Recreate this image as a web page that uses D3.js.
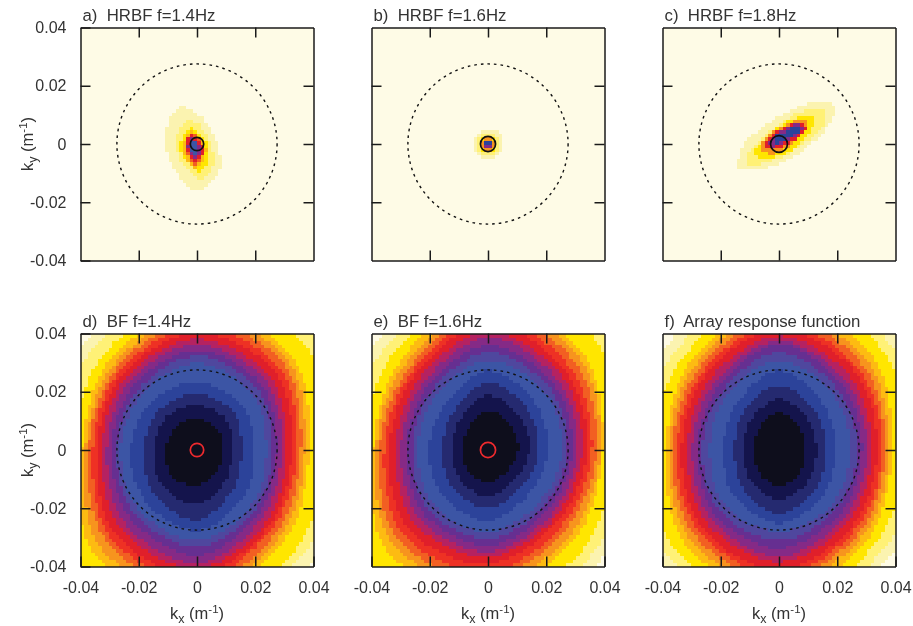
<!DOCTYPE html>
<html>
<head>
<meta charset="utf-8">
<script src="https://cdn.jsdelivr.net/npm/d3@7"></script>
<style>
    html, body { margin: 0; padding: 0; background: #fff; }
    svg { display: block; filter: blur(0.4px); }
    text { font-family: "Liberation Sans", Arial, sans-serif; fill: #333; }
    .title { font-size: 16.8px; white-space: pre; }
    .axis-label { font-size: 16.5px; }
    .tick text { font-family: "Liberation Sans", Arial, sans-serif; font-size: 16px; fill: #333; }
    .axis path, .axis line { stroke: #1a1a1a; stroke-width: 1.5px; }
</style>
</head>
<body>
<script>
// Colour bands of the plot, darkest (band 0) to palest (band 17)
const bandColors = ["#0e0e1c", "#14144c", "#252a70", "#2c439a", "#3c55a5", "#4f479e", "#662f91", "#852a86", "#b52261",
    "#e01f2a", "#ee3124", "#f25f22", "#f7941e", "#fdbb12", "#ffe600", "#fff176", "#fbf3b0", "#fefbe6"];

const tickValues = [-0.04, -0.02, 0, 0.02, 0.04];
const innerTicks = [-0.02, 0, 0.02];
const titles = ["a)  HRBF f=1.4Hz", "b)  HRBF f=1.6Hz", "c)  HRBF f=1.8Hz", "d)  BF f=1.4Hz", "e)  BF f=1.6Hz", "f)  Array response function"];

// all k values below are in 0.001 m^-1
const dashedRadius = 27.5;
const sourceRadii = [2.3, 2.6, 2.9, 2.3, 2.6, 0];
const sourceColors = ["#111", "#111", "#111", "#ee2a2e", "#ee2a2e", "none"];

// Contours of the HRBF panels as points, outermost first.
// Each *_levels entry is the colour band inside that contour.
const panelA_levels = [16, 15, 14, 13, 11, 9, 7, 4];
const panelA_contours = [
    [[-5.3, 12.9], [-1, 11.5], [5, 5], [8.1, -6.6], [5, -13], [-0.1, -15.9], [-6, -11], [-10.3, -3], [-10.7, 3], [-9, 10]],
    [[-2.5, 8.8], [2.9, 3.7], [5.8, -4.3], [4.8, -8.9], [1.2, -11.8], [-4.5, -7], [-7.4, 0.3], [-5.7, 5.8]],
    [[-2, 5.7], [3.2, 0.5], [3.9, -5], [0.8, -9.4], [-4.2, -5], [-5.8, -1.5], [-4.6, 3]],
    [[-2, 4.7], [3, -1], [0, -8.2], [-4.9, -1.5]],
    [[-2, 4], [2.4, -1], [-0.3, -7], [-4.1, -1.5]],
    [[-2, 3.5], [2.2, -1], [-0.5, -6.2], [-3.5, -1.5]],
    [[-2, 2.6], [1, -1.5], [-0.5, -5.1], [-3, -1.5]],
    [[-1.5, 1.5], [0.5, -1.5], [-0.7, -4.2], [-2.4, -1.5]]
];

const panelB_levels = [16, 15, 14, 12, 9, 7, 3];
const panelB_contours = [
    [[0, 5.3], [3.8, 3.8], [5, 0], [3.5, -3.6], [0, -5.1], [-3.6, -3.6], [-5.1, 0], [-3.6, 3.6]],
    [[0, 4], [2.8, 2.8], [3.9, 0], [2.7, -2.7], [0, -3.9], [-2.7, -2.7], [-3.9, 0], [-2.7, 2.7]],
    [[0, 3], [2.1, 2.1], [3, 0], [2, -2], [0, -2.9], [-2, -2], [-2.9, 0], [-2, 2]],
    [[0.1, 2.4], [2.4, 0], [0, -2.3], [-2.3, 0]],
    [[0.1, 1.9], [1.9, 0], [0, -1.8], [-1.8, 0]],
    [[0, 1.4], [1.4, 0], [0, -1.4], [-1.4, 0]],
    [[-0.8, 0.2], [0, 1.2], [0.8, 0.2], [0, -0.2]]
];

const panelC_levels = [16, 15, 14, 12, 9, 7, 3];
const panelC_contours = [
    [[-13.8, -8.3], [-12.6, -0.8], [-5.2, 6], [3.9, 11.7], [13.7, 14.8], [19, 13.5], [17.1, 6.6], [9.7, -0.8], [0.5, -6.6], [-8.6, -8.8]],
    [[-10.4, -3.1], [-2.3, 4.9], [7.4, 11.2], [15.9, 11.7], [14.8, 6], [5.7, -1.4], [-3.5, -6], [-10.4, -6.6]],
    [[-7.5, -0.8], [0.5, 6.6], [8.5, 9.7], [12.5, 8.3], [9.1, 2.6], [2.2, -3.1], [-5.8, -4.9], [-8.1, -3.7]],
    [[-5.8, 0.9], [0.5, 5.8], [7.9, 8.5], [10.2, 6.6], [3.9, -0.3], [-2.3, -3.1], [-5.8, -2]],
    [[-4.6, 0.9], [0.5, 5.1], [7.4, 7.7], [9.1, 5.4], [3.4, 0.5], [-2.3, -1.8], [-4.6, -0.8]],
    [[-3.5, 0.9], [0.5, 4.3], [6.8, 7.2], [7.9, 4.9], [2.8, 1.4], [-2.3, -0.8]],
    [[-1.2, 2.6], [2.2, 4.3], [6.2, 6.2], [6.8, 4.3], [2.8, 2], [-0.6, 0.5]]
];

// Contours of the BF panels: one row per colour band (0..16), radius from the
// origin read at E, NE, N, NW, W, SW, S, SE
const panelD_radii = [
    [8.5, 10, 10.9, 10.6, 10.6, 12.3, 12, 9.6],
    [11.9, 14.5, 15.7, 15.5, 14.7, 17, 18.5, 14],
    [15.3, 18, 19.4, 19, 18.4, 21, 23.8, 18],
    [19.9, 21.8, 23.4, 23, 22.7, 25, 27.4, 22.5],
    [23.7, 27, 30, 27, 26.2, 28.5, 30.9, 26.5],
    [25.6, 29.5, 32.5, 29, 27.5, 30.5, 33.1, 28.5],
    [27.3, 31.5, 34.5, 31, 29.3, 32.5, 36, 30],
    [29, 33.5, 36.5, 33, 31, 35, 38.9, 32],
    [30.7, 35.5, 38.3, 35, 32.7, 37.5, 40.6, 34],
    [32.5, 38, 40.5, 36.5, 34.4, 40, 43, 35.5],
    [34.2, 40, 42.5, 38, 35.8, 42, 45, 37],
    [35.7, 42, 44.5, 39.5, 37.3, 44, 47, 39],
    [37, 44, 46.5, 41, 38.4, 47, 49, 41],
    [38.5, 46, 48.5, 43, 39.5, 50, 51, 43],
    [45, 52, 52, 46, 43, 60, 55, 48],
    [50, 56, 56, 50, 50, 64, 58, 51],
    [56, 60, 60, 53.5, 56, 68, 62, 55]
];
const panelE_radii = [
    [10.3, 11.5, 13.7, 10, 8.6, 9.5, 11.1, 9.5],
    [14.2, 16, 19, 14, 12.5, 13.8, 16, 13.5],
    [17.4, 19.5, 23.2, 17.5, 15.7, 17.5, 20, 17],
    [20.5, 23, 27.4, 21.5, 20.3, 22, 24, 20.5],
    [25.4, 28, 30.9, 26, 24, 26.5, 27.8, 25],
    [27.1, 30, 33.7, 28, 26, 28.8, 30.3, 27],
    [28.9, 32, 36.2, 30, 28, 30.8, 32.6, 29],
    [30.6, 34, 38.9, 32, 30, 33, 34.9, 30.8],
    [32.3, 36, 41, 34, 31.7, 35.5, 36.6, 32.5],
    [34, 38, 44, 36, 34, 38.5, 39, 34],
    [35.7, 40, 46, 37.5, 35.7, 41, 42, 36],
    [37.4, 42.5, 48, 39, 37.4, 43.5, 44, 38],
    [38.6, 44.5, 50, 41, 38.6, 46, 46, 40.5],
    [39.4, 46.5, 52, 43, 39.5, 49, 48, 42.5],
    [43, 53, 55, 46.5, 43, 58, 52, 47],
    [50, 58, 58, 50, 50, 62, 56, 50.5],
    [56, 62, 62, 53.5, 56, 66, 60, 54]
];
const panelF_radii = [
    [8.7, 10.2, 12.8, 10, 8.1, 10, 12.3, 10.2],
    [12.9, 14.5, 17.7, 14.2, 12, 14.2, 17.1, 14.4],
    [16, 18.2, 22.3, 17.8, 15.3, 17.8, 21.9, 18],
    [19.4, 22, 27.4, 21.5, 19.1, 22, 25, 21.5],
    [24.3, 26.8, 30.9, 26, 23.7, 26.5, 27.7, 26],
    [26.8, 29, 33.7, 28, 26.3, 29, 30.9, 28],
    [28.5, 31, 36.6, 30, 28, 31, 33.7, 30],
    [30.2, 33, 37.7, 32, 29.8, 33, 36.6, 32],
    [31.9, 35, 39.4, 34, 31.5, 35, 38.3, 34],
    [33.7, 37.5, 42, 36, 33.5, 37.5, 41, 36],
    [35.4, 39, 44, 37.5, 35.1, 39, 43, 37.5],
    [36.5, 41, 46, 39.2, 36.6, 41, 45, 39.2],
    [37.7, 43, 48, 41, 37.8, 43, 47, 41],
    [38.8, 45.5, 50, 43, 38.9, 45.5, 49, 43],
    [44, 49.5, 54, 46, 44, 49.5, 53, 46],
    [50, 53, 58, 49.5, 50, 53, 57, 49.5],
    [55, 56, 62, 53, 55, 56, 61, 53]
];

const plotSize = 233;
const columnX = [80.5, 371.5, 662.5];
const rowY = [27.5, 333.5];
const nCells = 66; // pixels of the original image map per side

const svg = d3.select("body").append("svg").attr("width", 913).attr("height", 626);
const x = d3.scaleLinear().domain([-0.04, 0.04]).range([0, plotSize]);
const y = d3.scaleLinear().domain([-0.04, 0.04]).range([plotSize, 0]);
const cellIndex = d3.scaleBand().domain(d3.range(nCells)).range([-40, 40]);

const tickText = d => d === 0 ? "0" : d.toFixed(2);
const contourLine = d3.line().curve(d3.curveCatmullRomClosed);
const testCtx = document.createElement("canvas").getContext("2d");

// Radius rows to [x, y] rings, bands in row order
function radialContours(radii) {
    return radii.map(row => row.map((r, i) => [r * Math.cos(i * Math.PI / 4), r * Math.sin(i * Math.PI / 4)]));
}

// Colour band of every grid cell: darkest contour holding the cell centre wins
function bandGrid(levels, contours) {
    const paths = contours.map(c => new Path2D(contourLine(c)));
    const cells = [];
    d3.range(nCells).forEach(i => {
        d3.range(nCells).forEach(j => {
            const kx = cellIndex(i) + cellIndex.bandwidth() / 2;
            const ky = cellIndex(j) + cellIndex.bandwidth() / 2;
            let band = 17;
            paths.forEach((path, c) => {
                if (levels[c] < band && testCtx.isPointInPath(path, kx, ky)) band = levels[c];
            });
            cells.push({ i, j, band });
        });
    });
    return cells;
}

function createPanel(p, col, row) {
    const g = svg.append("g").attr("transform", `translate(${columnX[col]},${rowY[row]})`);
    const cellSize = plotSize / nCells;

    g.selectAll("rect")
        .data(bandGrid(p.levels, p.contours))
        .enter().append("rect")
        .attr("x", d => x(cellIndex(d.i) / 1000))
        .attr("y", d => y((cellIndex(d.j) + cellIndex.bandwidth()) / 1000))
        .attr("width", cellSize + 0.5)
        .attr("height", cellSize + 0.5)
        .attr("fill", d => bandColors[d.band])
        .attr("shape-rendering", "crispEdges");

    // Dashed circle and the small source circle
    g.append("circle")
        .attr("cx", x(0)).attr("cy", y(0))
        .attr("r", x(dashedRadius / 1000) - x(0))
        .attr("fill", "none").attr("stroke", "#111").attr("stroke-width", 1.4)
        .attr("stroke-dasharray", "2.6 4");

    if (p.sourceRadius > 0) {
        g.append("circle")
            .attr("cx", x(0)).attr("cy", y(0))
            .attr("r", x(p.sourceRadius / 1000) - x(0))
            .attr("fill", "none").attr("stroke", p.sourceColor).attr("stroke-width", 1.7);
    }

    // Axes on all four sides, ticks pointing inward
    const bottom = d3.axisBottom(x).tickValues(row === 1 ? tickValues : innerTicks).tickSizeInner(-10).tickSizeOuter(0).tickPadding(15)
        .tickFormat(row === 1 ? tickText : "");
    const left = d3.axisLeft(y).tickValues(col === 0 ? tickValues : innerTicks).tickSizeInner(-10).tickSizeOuter(0).tickPadding(14)
        .tickFormat(col === 0 ? tickText : "");
    const top = d3.axisTop(x).tickValues(innerTicks).tickSizeInner(-10).tickSizeOuter(0).tickFormat("");
    const right = d3.axisRight(y).tickValues(innerTicks).tickSizeInner(-10).tickSizeOuter(0).tickFormat("");

    g.append("g").attr("class", "axis").attr("transform", `translate(0,${plotSize})`).call(bottom);
    g.append("g").attr("class", "axis").call(left);
    g.append("g").attr("class", "axis").call(top);
    g.append("g").attr("class", "axis").attr("transform", `translate(${plotSize},0)`).call(right);

    g.append("text").attr("class", "title").attr("x", 2).attr("y", -7).text(p.title);

    // Axis labels with sub and superscripts
    if (row === 1) {
        const label = g.append("text").attr("class", "axis-label").attr("text-anchor", "middle")
            .attr("x", plotSize / 2).attr("y", plotSize + 52);
        addKLabel(label, "x");
    }
    if (col === 0) {
        const label = g.append("text").attr("class", "axis-label").attr("text-anchor", "middle")
            .attr("transform", `translate(-48,${plotSize / 2}) rotate(-90)`);
        addKLabel(label, "y");
    }
}

function addKLabel(label, sub) {
    label.append("tspan").text("k");
    label.append("tspan").attr("dy", 4).attr("font-size", "12.5px").text(sub);
    label.append("tspan").attr("dy", -4).text(" (m");
    label.append("tspan").attr("dy", -6).attr("font-size", "11.5px").text("-1");
    label.append("tspan").attr("dy", 6).text(")");
}

const panels = [
    { levels: panelA_levels, contours: panelA_contours },
    { levels: panelB_levels, contours: panelB_contours },
    { levels: panelC_levels, contours: panelC_contours },
    { levels: d3.range(17), contours: radialContours(panelD_radii) },
    { levels: d3.range(17), contours: radialContours(panelE_radii) },
    { levels: d3.range(17), contours: radialContours(panelF_radii) }
];

panels.forEach((p, i) => {
    p.title = titles[i];
    p.sourceRadius = sourceRadii[i];
    p.sourceColor = sourceColors[i];
    createPanel(p, i % 3, Math.floor(i / 3));
});
</script>
</body>
</html>
